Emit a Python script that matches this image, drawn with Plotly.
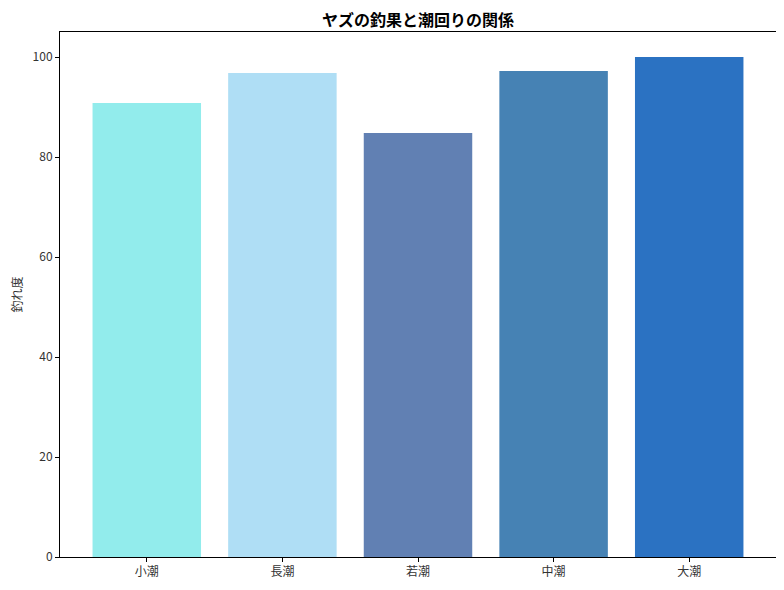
import plotly.graph_objects as go

tides = ["小潮", "長潮", "若潮", "中潮", "大潮"]
scores = [90.8, 96.8, 84.8, 97.2, 100.0]
colors = ["#92ECEC", "#AFDEF5", "#6180B3", "#4682B4", "#2B72C2"]

font = "Noto Sans CJK JP"

fig = go.Figure(
    go.Bar(
        x=tides,
        y=scores,
        marker=dict(color=colors, line=dict(width=0)),
        width=0.8,
    )
)

axis_style = dict(
    showline=True,
    linecolor="black",
    linewidth=1,
    mirror=True,
    ticks="outside",
    ticklen=4,
    tickcolor="black",
    showgrid=False,
    zeroline=False,
    automargin=False,
    tickfont=dict(family=font, size=12, color="#333333"),
)

fig.update_xaxes(range=[-0.64, 4.64], **axis_style)
fig.update_yaxes(
    range=[0, 105],
    tickvals=[0, 20, 40, 60, 80, 100],
    title=dict(text="釣れ度", font=dict(family=font, size=12, color="#333333"), standoff=8),
    **axis_style,
)

# the page adds an 8px body margin, so the figure is a bit smaller than the window
fig.update_layout(
    width=776,
    height=582,
    margin=dict(l=52, r=8, t=24, b=33),
    plot_bgcolor="white",
    paper_bgcolor="white",
    showlegend=False,
    title=dict(
        text="<b>ヤズの釣果と潮回りの関係</b>",
        xref="paper",
        x=0.5,
        xanchor="center",
        y=0.978,
        yanchor="middle",
        font=dict(family=font, size=16, color="black"),
    ),
    bargap=0.2,
)

fig.write_html("out.html")
